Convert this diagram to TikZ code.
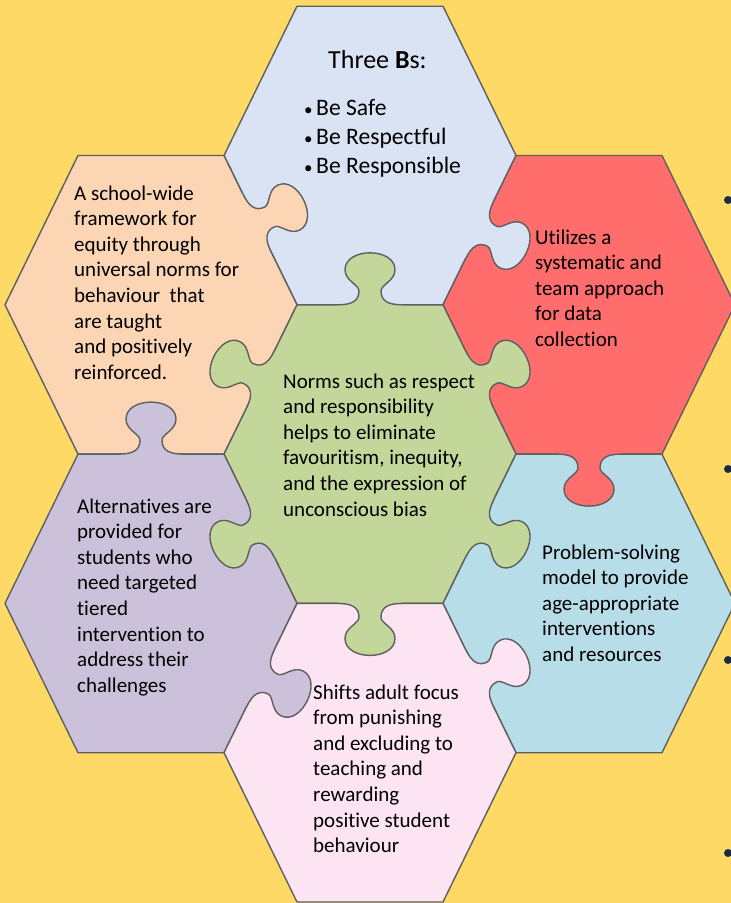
\documentclass[tikz,border=0pt]{standalone}
\usepackage{fontspec}
\setmainfont{Carlito}[Ligatures=NoCommon]
\usetikzlibrary{calc}
\definecolor{bgyellow}{HTML}{FFD966}
\definecolor{cblue}{HTML}{DAE3F3}
\definecolor{cpeach}{HTML}{FCD5B4}
\definecolor{cred}{HTML}{FF6D6D}
\definecolor{cgreen}{HTML}{C4D79B}
\definecolor{cpurple}{HTML}{CCC1DA}
\definecolor{caqua}{HTML}{B7DDE8}
\definecolor{cpink}{HTML}{FCE4F3}
\definecolor{outl}{HTML}{5F5F5F}
\definecolor{cdot}{HTML}{1B2A45}
\tikzset{
  piece/.style={draw=outl, line width=1.4pt, line join=round},
  tabline/.style={draw=outl, line width=1.4pt, line cap=butt},
  txt/.style={inner sep=0pt, anchor=base west, font=\fontsize{21}{25.6}\selectfont, text=black},
  bulletdot/.style={fill=cdot},
}
\newcommand\hexa[4]{%
  \coordinate (#1) at (#2,#3);
  \path[piece, fill=#4] ($(#1)+(-146,0)$) -- ($(#1)+(-73,-149.3)$) -- ($(#1)+(73,-149.3)$) -- ($(#1)+(146,0)$) -- ($(#1)+(73,149.3)$) -- ($(#1)+(-73,149.3)$) -- cycle;}
\newcommand\tabshape{(-32,0) .. controls (-18,0) and (-11,-4) .. (-11,-14) .. controls (-11,-20) and (-25,-24) .. (-25,-35) .. controls (-25,-46) and (-13,-52) .. (0,-52) .. controls (13,-52) and (25,-46) .. (25,-35) .. controls (25,-24) and (11,-20) .. (11,-14) .. controls (11,-4) and (18,0) .. (32,0)}
\newcommand\knob[5]{%
  \begin{scope}[shift={($(#1)+(#2,#3)$)}, rotate=#4]
    \fill[#5] (-32,2.5) -- \tabshape -- (32,2.5) -- cycle;
    \draw[tabline] \tabshape;
  \end{scope}}
\newcommand\bul{\makebox[12pt][l]{\raisebox{0.5pt}{\fontsize{17}{17}\selectfont\textbullet}}}
\begin{document}
\begin{tikzpicture}[x=1pt,y=-1pt]
\useasboundingbox (0,0) rectangle (731,903);
\clip (0,0) rectangle (731,903);
\fill[bgyellow] (0,0) rectangle (731,903);
% pieces
\hexa{T1}{370}{155.5}{cblue}
\hexa{P1}{151}{304.8}{cpeach}
\hexa{R1}{589}{304.8}{cred}
\hexa{G}{370}{454.1}{cgreen}
\hexa{V1}{151}{603.4}{cpurple}
\hexa{A1}{589}{603.4}{caqua}
\hexa{K1}{370}{752.7}{cpink}
% knobs
\knob{G}{0}{-149.3}{0}{cgreen}
\knob{G}{109.5}{-74.65}{-64.05}{cgreen}
\knob{G}{109.5}{74.65}{-115.95}{cgreen}
\knob{G}{0}{149.3}{180}{cgreen}
\knob{G}{-109.5}{74.65}{115.95}{cgreen}
\knob{G}{-109.5}{-74.65}{64.05}{cgreen}
\knob{P1}{106}{-81.8}{-64.05}{cpeach}
\knob{T1}{109.5}{74.65}{-115.95}{cblue}
\knob{R1}{0}{149.3}{180}{cred}
\knob{K1}{109.5}{-74.65}{-64.05}{cpink}
\knob{V1}{109.5}{74.65}{-115.95}{cpurple}
\knob{V1}{0}{-149.3}{0}{cpurple}
% right-edge bullets
\fill[bulletdot] (728,200) circle (4);
\fill[bulletdot] (728,469) circle (4);
\fill[bulletdot] (728,660) circle (4);
\fill[bulletdot] (728,853) circle (4);
% texts
\node[txt, font=\fontsize{26}{31}\selectfont] (title) at (328,68) {Three \textbf{B}s:};
\node[txt, font=\fontsize{23.6}{29}\selectfont] (bs) at (304,115.5) {\begin{tabular}[t]{@{}l@{}}\bul Be Safe\\ \bul Be Respectful\\ \bul Be Responsible\end{tabular}};
\node[txt] (tp) at (74,200) {\begin{tabular}[t]{@{}l@{}}A school-wide\\ framework for\\ equity through\\ universal norms for\\ behaviour~ that\\ are taught\\ and positively\\ reinforced.\end{tabular}};
\node[txt] (tr) at (535,244) {\begin{tabular}[t]{@{}l@{}}Utilizes a\\ systematic and\\ team approach\\ for data\\ collection\end{tabular}};
\node[txt] (tg) at (283,388) {\begin{tabular}[t]{@{}l@{}}Norms such as respect\\ and responsibility\\ helps to eliminate\\ favouritism, inequity,\\ and the expression of\\ unconscious bias\end{tabular}};
\node[txt] (tv) at (77,513) {\begin{tabular}[t]{@{}l@{}}Alternatives are\\ provided for\\ students who\\ need targeted\\ tiered\\ intervention to\\ address their\\ challenges\end{tabular}};
\node[txt] (ta) at (542,559) {\begin{tabular}[t]{@{}l@{}}Problem-solving\\ model to provide\\ age-appropriate\\ interventions\\ and resources\end{tabular}};
\node[txt] (tk) at (313,699) {\begin{tabular}[t]{@{}l@{}}Shifts adult focus\\ from punishing\\ and excluding to\\ teaching and\\ rewarding\\ positive student\\ behaviour\end{tabular}};
\end{tikzpicture}
\end{document}
